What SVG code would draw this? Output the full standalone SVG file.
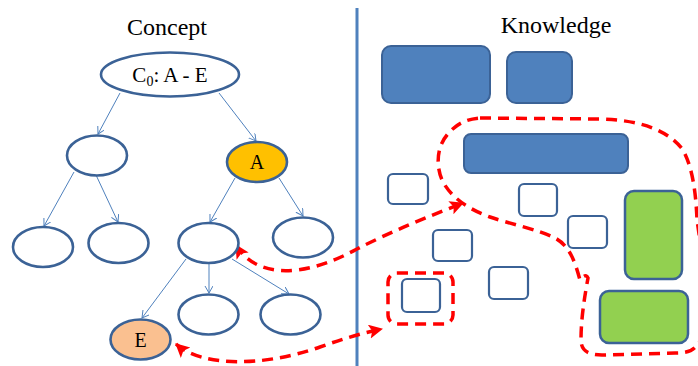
<svg xmlns="http://www.w3.org/2000/svg" width="698" height="366" viewBox="0 0 698 366">
<style>
.node{fill:#fff;stroke:#3B6296;stroke-width:2.6}
.lbl{font-family:"Liberation Serif",serif;fill:#000}
.conn{fill:none;stroke:#4F81BD;stroke-width:1;marker-end:url(#ah)}
.blue{fill:#4F81BD;stroke:#3B6296;stroke-width:2}
.green{fill:#92D050;stroke:#3B6296;stroke-width:2.5}
.wbox{fill:#fff;stroke:#3B6296;stroke-width:2.2}
.rd{fill:none;stroke:#FF0000;stroke-width:3.5;stroke-dasharray:11 7}
</style>
<defs>
<marker id="ah" markerUnits="userSpaceOnUse" markerWidth="10" markerHeight="10" refX="7" refY="4" orient="auto">
<path d="M0,0 L7,4 L0,8" fill="none" stroke="#4F81BD" stroke-width="1"/>
</marker>
<marker id="rh" markerUnits="userSpaceOnUse" markerWidth="18" markerHeight="16" refX="13" refY="7" orient="auto-start-reverse">
<path d="M0,0 L14,7 L0,14 L3,7 Z" fill="#FF0000"/>
</marker>
</defs>

<line x1="357" y1="8" x2="357" y2="366" stroke="#4F81BD" stroke-width="3"/>
<text class="lbl" x="167" y="35" font-size="24" text-anchor="middle">Concept</text>
<text class="lbl" x="556" y="33" font-size="24" text-anchor="middle">Knowledge</text>

<g id="connectors">
<line class="conn" x1="120" y1="93" x2="98" y2="134"/>
<line class="conn" x1="219" y1="93" x2="256" y2="141"/>
<line class="conn" x1="74" y1="172" x2="44" y2="226"/>
<line class="conn" x1="96" y1="175" x2="118" y2="222"/>
<line class="conn" x1="235" y1="178" x2="210" y2="222"/>
<line class="conn" x1="279" y1="178" x2="303" y2="216"/>
<line class="conn" x1="186" y1="259" x2="142" y2="318"/>
<line class="conn" x1="209" y1="263" x2="209" y2="293"/>
<line class="conn" x1="232" y1="259" x2="289" y2="294"/>
<path class="rd" d="M236,245 C255,277 300,280 357,249 C390,232 430,216 463,203" marker-start="url(#rh)" marker-end="url(#rh)"/>
<path class="rd" d="M176,344 C200,366 260,368 320,347 C345,338 363,333 382,329" marker-start="url(#rh)" marker-end="url(#rh)"/>
</g>

<g id="root"><ellipse class="node" cx="170" cy="74.5" rx="69" ry="22"/>
<text class="lbl" x="170" y="82" font-size="21" text-anchor="middle">C<tspan font-size="14" dy="4">0</tspan><tspan dy="-4">: A - E</tspan></text></g>
<g id="n1"><ellipse class="node" cx="97" cy="155.5" rx="30" ry="20"/></g>
<g id="nA"><ellipse class="node" cx="257" cy="162" rx="30" ry="20" style="fill:#FFC000"/>
<text class="lbl" x="257" y="169" font-size="20" text-anchor="middle">A</text></g>
<g id="n3"><ellipse class="node" cx="43" cy="247" rx="30" ry="20"/></g>
<g id="n4"><ellipse class="node" cx="118.5" cy="243" rx="30" ry="20"/></g>
<g id="n5"><ellipse class="node" cx="208.5" cy="243" rx="30" ry="20"/></g>
<g id="n6"><ellipse class="node" cx="303" cy="237.5" rx="30" ry="20"/></g>
<g id="nE"><ellipse class="node" cx="140.5" cy="339.5" rx="30" ry="20" style="fill:#FAC090"/>
<text class="lbl" x="140.5" y="347" font-size="20" text-anchor="middle">E</text></g>
<g id="n8"><ellipse class="node" cx="208.5" cy="314.5" rx="30" ry="20"/></g>
<g id="n9"><ellipse class="node" cx="290.5" cy="314.5" rx="30" ry="20"/></g>

<g id="k1"><rect class="blue" x="382" y="46" width="108" height="57" rx="9"/></g>
<g id="k2"><rect class="blue" x="507" y="52" width="65" height="51" rx="9"/></g>
<g id="k3"><rect class="blue" x="464" y="134" width="164" height="39" rx="7"/></g>
<g id="k4"><rect class="wbox" x="388" y="174" width="40" height="30" rx="5"/></g>
<g id="k5"><rect class="wbox" x="519" y="184" width="38" height="32" rx="5"/></g>
<g id="k6"><rect class="wbox" x="433" y="230" width="39" height="31" rx="5"/></g>
<g id="k7"><rect class="wbox" x="568" y="216" width="39" height="32" rx="5"/></g>
<g id="k8"><rect class="wbox" x="489" y="267" width="39" height="32" rx="5"/></g>
<g id="k9"><rect class="wbox" x="402" y="279" width="38" height="33" rx="5"/></g>
<g id="k10"><rect class="green" x="625" y="191" width="57" height="88" rx="9"/></g>
<g id="k11"><rect class="green" x="600" y="291" width="88" height="52" rx="9"/></g>

<g id="regions">
<rect class="rd" x="388" y="273" width="65" height="51" rx="9"/>
<path class="rd" d="M480,118 L600,119 C640,120 668,130 683,150 C693,168 696,195 697,220 C703,260 712,330 697,345 C692,352 685,353 675,353 L602,355 C590,355 581,352 581,340 C581,320 584,300 588,278 C586,274 583,276 580,280 C575,262 570,246 555,238 C540,230 510,224 490,217 C468,209 452,198 443,182 C436,168 436,148 447,135 C456,124 466,119 480,118 Z"/>
</g>
</svg>
